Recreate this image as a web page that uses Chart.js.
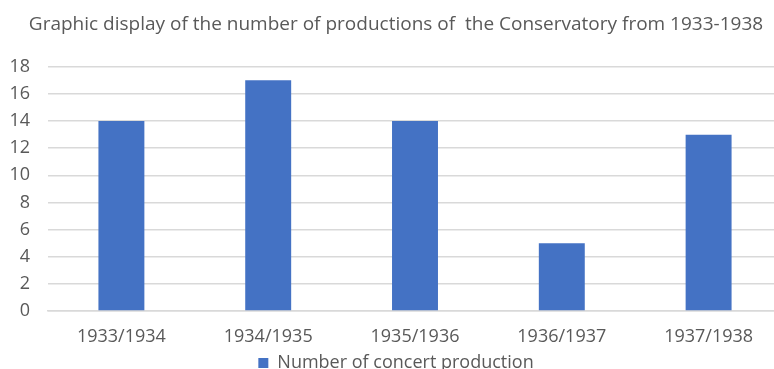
<!DOCTYPE html>
<html>
<head>
<meta charset="utf-8">
<script src="https://cdn.jsdelivr.net/npm/chart.js@4"></script>
<style>
  html, body { margin: 0; padding: 0; background: #fff; overflow: hidden; }
  #wrap { width: 774px; height: 369px; overflow: hidden; }
</style>
</head>
<body>
<div id="wrap"><canvas id="canvas" width="794" height="384"></canvas></div>
<script>
var seasons = ['1933/1934', '1934/1935', '1935/1936', '1936/1937', '1937/1938'];
var productions = [14, 17, 14, 5, 13];
var seriesName = 'Number of concert production';
var chartTitle = 'Graphic display of the number of productions of  the Conservatory from 1933-1938';

var textColor = '#595959';
var gridColor = '#d9d9d9';

var config = {
    type: 'bar',
    data: {
        labels: seasons,
        datasets: [{
            label: seriesName,
            data: productions,
            backgroundColor: '#4472C4',
            borderWidth: 0,
            barPercentage: 0.313,
            categoryPercentage: 1
        }]
    },
    options: {
        responsive: false,
        animation: false,
        layout: { padding: { left: 10, right: 12, top: 0, bottom: 2 } },
        plugins: {
            title: {
                display: true,
                text: chartTitle,
                color: textColor,
                font: { family: 'Open Sans', size: 19, weight: 'normal' },
                padding: { top: 13, bottom: 31 }
            },
            legend: {
                position: 'bottom',
                labels: {
                    color: textColor,
                    font: { family: 'Open Sans', size: 18 },
                    boxWidth: 10,
                    boxHeight: 10,
                    padding: 0
                }
            },
            tooltip: { enabled: false }
        },
        scales: {
            x: {
                grid: { display: false, drawTicks: false },
                border: { display: true, color: gridColor, width: 1.5 },
                ticks: { color: textColor, font: { family: 'Open Sans', size: 18, lineHeight: 1 }, padding: 17 },
                afterFit: function (scale) { scale.height = 43; }
            },
            y: {
                min: 0,
                max: 18,
                ticks: { stepSize: 2, color: textColor, font: { family: 'Open Sans', size: 18 }, padding: 18 },
                grid: { color: gridColor, lineWidth: 1.5, drawTicks: false },
                border: { display: false },
                afterFit: function (scale) { scale.width = 38; }
            }
        }
    }
};

window.onload = function () {
    var ctx = document.getElementById('canvas').getContext('2d');
    new Chart(ctx, config);
};
</script>
</body>
</html>
